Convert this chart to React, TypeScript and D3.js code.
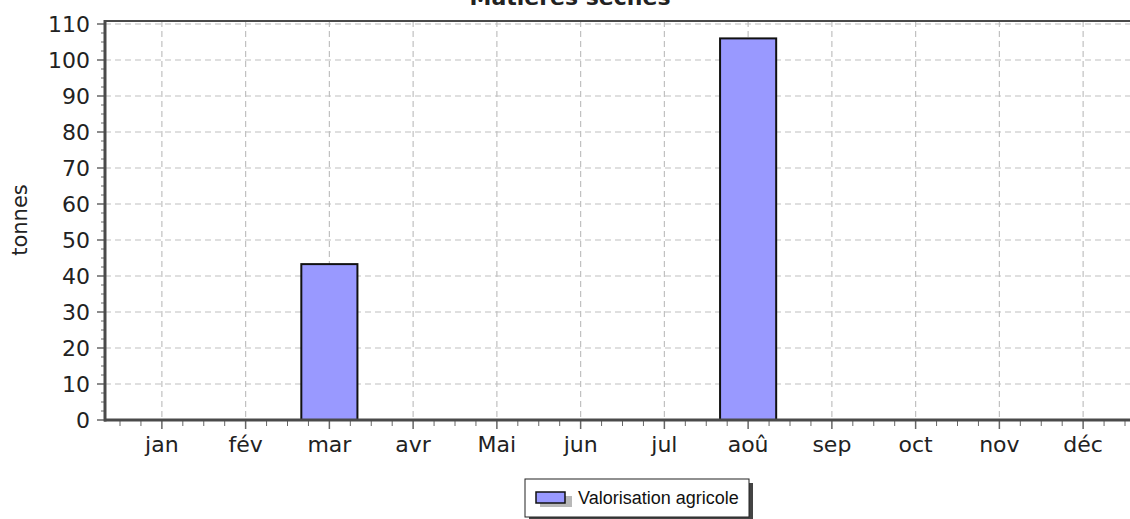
import { useEffect, useRef } from "react";
import * as d3 from "d3";

const W = 1130;
const H = 519;

// months on the x axis
const MONTHS = ["jan", "fév", "mar", "avr", "Mai", "jun", "jul", "aoû", "sep", "oct", "nov", "déc"];
// tonnes per month (only two months carry a value)
const VALUES = [0, 0, 43.3, 0, 0, 0, 0, 106, 0, 0, 0, 0];
const Y_TICKS = [0, 10, 20, 30, 40, 50, 60, 70, 80, 90, 100, 110];
const SERIES = "Valorisation agricole";
const TITLE = "Matières sèches";

const BAR_FILL = "#9999ff";
const GRID = "#c0c0c0";
const AXIS = "#4a4a4a";
const FONT = "DejaVu Sans, Verdana, sans-serif";

export default function App() {
  const ref = useRef<SVGSVGElement>(null);

  useEffect(() => {
    if (!ref.current) return;
    const svg = d3.select(ref.current);
    svg.selectAll("*").remove();

    const left = 105;
    const right = 1130;
    const top = 21;

    const x = d3.scaleBand<string>().domain(MONTHS).range([120, 1125]).padding(0);
    const y = d3.scaleLinear().domain([0, 110]).range([420, 24]);
    const bottom = y(0);

    // title (clipped at the top edge, as in the source)
    svg.append("text")
      .attr("x", 570).attr("y", 5)
      .attr("text-anchor", "middle")
      .attr("font-family", FONT).attr("font-size", 22).attr("font-weight", "bold")
      .attr("fill", "#222")
      .text(TITLE);

    // grid
    const grid = svg.append("g").attr("stroke", GRID).attr("stroke-width", 1.2).attr("stroke-dasharray", "6,4");
    Y_TICKS.filter((t) => t > 0).forEach((t) => {
      grid.append("line").attr("x1", left).attr("x2", right).attr("y1", y(t)).attr("y2", y(t));
    });
    MONTHS.forEach((m) => {
      const cx = x(m)! + x.bandwidth() / 2;
      grid.append("line").attr("x1", cx).attr("x2", cx).attr("y1", top).attr("y2", bottom);
    });

    // bars
    svg.append("g").selectAll("rect")
      .data(MONTHS.map((m, i) => ({ m, v: VALUES[i] })).filter((d) => d.v > 0))
      .join("rect")
      .attr("x", (d) => x(d.m)! + x.bandwidth() * 0.165)
      .attr("width", x.bandwidth() * 0.67)
      .attr("y", (d) => y(d.v))
      .attr("height", (d) => bottom - y(d.v))
      .attr("fill", BAR_FILL)
      .attr("stroke", "#111")
      .attr("stroke-width", 2);

    // top border
    svg.append("line").attr("x1", left).attr("x2", right).attr("y1", top).attr("y2", top)
      .attr("stroke", AXIS).attr("stroke-width", 2);

    // y axis: minor ticks every 2.5, major every 10
    const ya = svg.append("g").attr("stroke", "#666");
    d3.range(0, 110.01, 2.5).forEach((v) => {
      const major = v % 10 === 0;
      ya.append("line")
        .attr("x1", major ? 97 : 101).attr("x2", left)
        .attr("y1", y(v)).attr("y2", y(v))
        .attr("stroke-width", major ? 1.5 : 1);
    });
    svg.append("line").attr("x1", left).attr("x2", left).attr("y1", top - 1).attr("y2", bottom + 1.5)
      .attr("stroke", AXIS).attr("stroke-width", 3);
    svg.append("g").selectAll("text").data(Y_TICKS).join("text")
      .attr("x", 90).attr("y", (d) => y(d))
      .attr("dy", "0.36em")
      .attr("text-anchor", "end")
      .attr("font-family", FONT).attr("font-size", 22).attr("fill", "#222")
      .text((d) => d);

    // x axis: minor ticks at quarter bands
    const xa = svg.append("g").attr("stroke", "#666");
    const step = x.bandwidth() / 4;
    d3.range(0, MONTHS.length * 4 + 1).forEach((k) => {
      const px = 120 + k * step;
      const major = k % 4 === 2;
      xa.append("line")
        .attr("x1", px).attr("x2", px)
        .attr("y1", bottom).attr("y2", bottom + (major ? 9 : 6))
        .attr("stroke-width", major ? 1.5 : 1);
    });
    svg.append("line").attr("x1", left - 1).attr("x2", right).attr("y1", bottom).attr("y2", bottom)
      .attr("stroke", AXIS).attr("stroke-width", 3);
    svg.append("g").selectAll("text").data(MONTHS).join("text")
      .attr("x", (d) => x(d)! + x.bandwidth() / 2)
      .attr("y", 452)
      .attr("text-anchor", "middle")
      .attr("font-family", FONT).attr("font-size", 22).attr("fill", "#222")
      .text((d) => d);

    // y axis title
    svg.append("text")
      .attr("transform", `translate(27,220) rotate(-90)`)
      .attr("text-anchor", "middle")
      .attr("font-family", FONT).attr("font-size", 21).attr("fill", "#222")
      .text("tonnes");

    // legend with drop shadow
    const lg = svg.append("g");
    lg.append("rect").attr("x", 529).attr("y", 483).attr("width", 224).attr("height", 38).attr("fill", "#444");
    lg.append("rect").attr("x", 525).attr("y", 479).attr("width", 224).attr("height", 38)
      .attr("fill", "#fff").attr("stroke", "#222").attr("stroke-width", 1);
    lg.append("rect").attr("x", 540).attr("y", 496).attr("width", 32).attr("height", 11).attr("fill", "#b8b8b8");
    lg.append("rect").attr("x", 536).attr("y", 492).attr("width", 29).attr("height", 11)
      .attr("fill", BAR_FILL).attr("stroke", "#111").attr("stroke-width", 1.5);
    lg.append("text").attr("x", 578).attr("y", 498).attr("dy", "0.35em")
      .attr("font-family", "Liberation Sans, Arial, sans-serif").attr("font-size", 18).attr("fill", "#111")
      .text(SERIES);
  }, []);

  return (
    <svg
      ref={ref}
      width={W}
      height={H}
      style={{ position: "fixed", left: 0, top: 0, background: "#fff" }}
    />
  );
}
